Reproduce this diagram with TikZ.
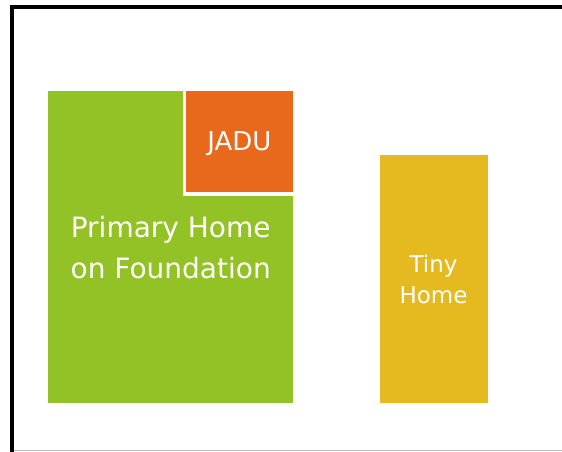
\documentclass[tikz,border=0pt]{standalone}
\usepackage{fontspec}
\setmainfont{DejaVu Sans}
\definecolor{homegreen}{RGB}{147,194,38}
\definecolor{jaduorange}{RGB}{232,104,28}
\definecolor{tinyyellow}{RGB}{229,186,32}
\definecolor{frameline}{RGB}{190,190,190}
\tikzset{
  block/.style={draw=none, inner sep=0pt, anchor=north west, text=white, align=center},
}
\begin{document}
\begin{tikzpicture}[x=1pt,y=-1pt]
\useasboundingbox (0,0) rectangle (562,452);
% frame
\draw[line width=4pt, black] (12,452) -- (12,7) -- (562,7);
\draw[line width=1pt, frameline] (14,450.5) -- (562,450.5);
% primary home
\node[block, fill=homegreen, minimum width=245pt, minimum height=312pt,
      font={\fontsize{28}{41}\selectfont}] (primary) at (48,91) {Primary Home\\on Foundation};
% JADU with white border
\fill[white] (182.5,91) rectangle (294,196);
\node[block, fill=jaduorange, minimum width=106.5pt, minimum height=101pt] (jadu) at (186,91) {};
\node[text=white, inner sep=0pt, font={\fontsize{26}{30}\selectfont}] (jadulabel) at ([yshift=-2pt]jadu.center) {JADU};
% tiny home
\node[block, fill=tinyyellow, minimum width=108pt, minimum height=248pt,
      font={\fontsize{23}{31.5}\selectfont}] (tiny) at (379.3,155) {Tiny\\Home};
\end{tikzpicture}
\end{document}
